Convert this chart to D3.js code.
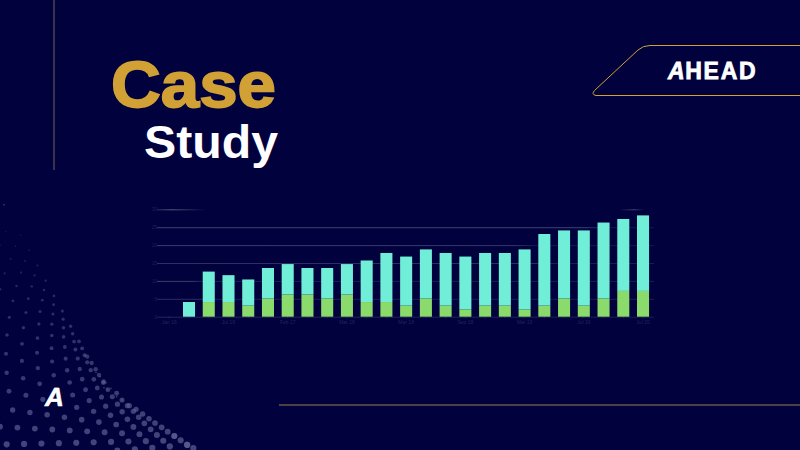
<!DOCTYPE html>
<html>
<head>
<meta charset="utf-8">
<script src="https://cdn.jsdelivr.net/npm/d3@7"></script>
<style>
  html, body { margin: 0; padding: 0; background: #01013e; }
  svg { display: block; }
</style>
</head>
<body>
<div id="chart"></div>
<script>
// Chart data
const periods = d3.range(25);
const tickLabels = ["Jan 16", "Jul 16", "Feb 17", "Mar 18", "Mar 18", "Sep 18", "Mar 19", "Jul 19", "Jul 20"];
const greenValues = [0, 0, 4.1, 4.1, 3.1, 5.1, 6.2, 6.2, 5.1, 6.2, 4.1, 4.1, 3.1, 5.1, 3.1, 2.05, 3.1, 3.1, 2.05, 3.1, 5.1, 3.1, 5.1, 7.2, 7.2];
const tealValues = [0, 4.1, 8.5, 7.5, 7.3, 8.5, 8.5, 7.4, 8.5, 8.5, 11.6, 13.7, 13.7, 13.7, 14.7, 14.75, 14.7, 14.7, 16.75, 20, 19, 21, 21.2, 20.1, 21.1];
const yTicks = [0, 5, 10, 15, 20, 25, 30];

const width = 800;
const height = 450;
const background = "#01013e";
const gold = "#d1a135";
const teal = "#70eed8";
const green = "#8adb6c";

const svg = d3
  .select("#chart")
  .append("svg")
  .attr("width", width)
  .attr("height", height)
  .attr("viewBox", [0, 0, width, height]);

svg.append("rect").attr("width", width).attr("height", height).attr("fill", background);

// Scales
const x = d3
  .scaleBand()
  .domain(periods)
  .range([159.4, 652.9])
  .paddingInner(0.39)
  .paddingOuter(0.195);
const y = d3.scaleLinear().domain([0, 30]).range([316.7, 209.3]);

// Gridlines are uneven in the picture, so each one has its own gradient
const gridStops = {
  0: [[0, "#23255a"], [1, "#1c1e52"]],
  5: [[0, "#2a2c60"], [0.08, "#2a2c60"], [0.1, "#1c1e55"], [1, "#1a1c50"]],
  10: [[0, "#3a3c68"], [0.07, "#3a3c68"], [0.09, "#1d1f56"], [1, "#1a1c50"]],
  15: [[0, "#2c2e64"], [0.75, "#2c2e64"], [0.8, "#1a1c50"], [1, "#1a1c50"]],
  20: [[0, "#3a3c70"], [0.72, "#33356a"], [0.76, "#14164c"], [1, "#14164c"]],
  25: [[0, "#3d3f70"], [0.86, "#3d3f70"], [0.9, "#14164c"], [1, "#14164c"]],
  30: [[0, "#2a2c58"], [0.03, "#55577a"], [0.1, "#01013e"], [0.93, "#01013e"], [0.96, "#45476c"], [0.98, "#01013e"], [1, "#01013e"]],
};
const defs = svg.append("defs");
yTicks.forEach((t) => {
  const grad = defs
    .append("linearGradient")
    .attr("id", `grid-${t}`)
    .attr("gradientUnits", "userSpaceOnUse")
    .attr("x1", 0)
    .attr("x2", 497)
    .attr("y1", 0)
    .attr("y2", 0);
  gridStops[t].forEach((s) => {
    grad.append("stop").attr("offset", s[0]).attr("stop-color", s[1]);
  });
});

// Y axis with gridlines
svg
  .append("g")
  .attr("transform", "translate(157,0)")
  .call(d3.axisLeft(y).tickValues(yTicks).tickSize(0).tickPadding(0))
  .call((g) => g.select(".domain").remove())
  .call((g) =>
    g
      .selectAll(".tick text")
      .attr("fill", "#1f2156")
      .attr("font-size", "4.5px")
      .attr("font-family", "Liberation Sans"),
  )
  .call((g) =>
    g
      .selectAll(".tick")
      .append("rect")
      .attr("x", 0)
      .attr("y", -0.5)
      .attr("width", 497)
      .attr("height", 1)
      .attr("fill", (d) => `url(#grid-${d})`),
  );

// X axis, labelled every third period
svg
  .append("g")
  .attr("transform", `translate(0,${y(0)})`)
  .call(
    d3
      .axisBottom(x)
      .tickSize(1.5)
      .tickPadding(2)
      .tickFormat((d) => (d % 3 === 0 ? tickLabels[d / 3] : "")),
  )
  .call((g) => g.select(".domain").remove())
  .call((g) => g.selectAll(".tick line").attr("stroke", "#2a2c60"))
  .call((g) =>
    g
      .selectAll(".tick text")
      .attr("fill", "#23255a")
      .attr("font-size", "5px")
      .attr("font-family", "Liberation Sans"),
  );

// Stacked bars
const stack = d3.stack().keys(["green", "teal"]);
const stacked = stack(periods.map((p) => ({ green: greenValues[p], teal: tealValues[p] })));
const barColors = { green: green, teal: teal };
svg
  .append("g")
  .selectAll("g")
  .data(stacked)
  .join("g")
  .attr("fill", (s) => barColors[s.key])
  .selectAll("rect")
  .data((s) => s.map((d, i) => ({ d, i })).filter((b) => b.d[1] > b.d[0]))
  .join("rect")
  .attr("x", (b) => x(b.i))
  .attr("y", (b) => y(b.d[1]))
  .attr("width", x.bandwidth())
  .attr("height", (b) => y(b.d[0]) - y(b.d[1]));

// Title
svg
  .append("text")
  .attr("x", 111)
  .attr("y", 107)
  .attr("fill", gold)
  .attr("stroke", gold)
  .attr("stroke-width", 1.8)
  .attr("font-family", "Liberation Sans")
  .attr("font-weight", 700)
  .attr("font-size", 65)
  .attr("textLength", 165)
  .attr("lengthAdjust", "spacingAndGlyphs")
  .text("Case");
svg
  .append("text")
  .attr("x", 144)
  .attr("y", 157.5)
  .attr("fill", "#ffffff")
  .attr("font-family", "Liberation Sans")
  .attr("font-weight", 700)
  .attr("font-size", 46)
  .attr("textLength", 134)
  .attr("lengthAdjust", "spacingAndGlyphs")
  .text("Study");

// Gold rules and the logo panel
svg
  .append("rect")
  .attr("x", 53.5)
  .attr("y", 0)
  .attr("width", 1)
  .attr("height", 170)
  .attr("fill", "#75655a");
svg
  .append("rect")
  .attr("x", 279)
  .attr("y", 404.5)
  .attr("width", 521)
  .attr("height", 1)
  .attr("fill", "#9a7f4e");
svg
  .append("path")
  .attr("d", "M800,45.5H650Q643,45.5 638,50L594.5,90.5Q591,94.5 596,95.5H800")
  .attr("fill", "none")
  .attr("stroke", gold)
  .attr("stroke-width", 1);

// Logo text
const logo = svg
  .append("text")
  .attr("x", 668)
  .attr("y", 78.5)
  .attr("fill", "#ffffff")
  .attr("stroke", "#ffffff")
  .attr("stroke-width", 0.8)
  .attr("font-family", "Liberation Sans")
  .attr("font-weight", 700)
  .attr("font-size", 23)
  .attr("letter-spacing", 1.7);
logo.append("tspan").attr("font-style", "italic").text("A");
logo.append("tspan").attr("dx", -1).text("HEAD");

// Dot field in the lower left corner, in crop coordinates (3x, origin at 0,200).
// Each row: first dot x, y, last dot x, y, dot count
const dotRows = [
  [37, 60, 262, 470, 10], [18, 95, 275, 489, 10], [0, 135, 254, 466, 9],
  [14, 220, 297, 525, 9], [0, 268, 311, 545, 9], [28, 352, 366, 600, 9],
  [21, 405, 382, 617, 9], [18, 461, 400, 634, 9], [20, 518, 416, 652, 9],
  [27, 574, 433, 670, 9], [38, 630, 452, 688, 9], [0, 680, 523, 708, 11],
  [20, 733, 542, 721, 11], [352, 752, 562, 735, 5],
];
const edgeDots = [
  [287, 508], [310, 548], [350, 580], [388, 617], [408, 628], [428, 642], [447, 656], [465, 669],
  [485, 682], [503, 695], [523, 708], [561, 734], [580, 744],
];
const tinyDots = [
  [12, 14], [256, 466], [288, 517], [300, 530], [318, 548], [312, 563], [322, 568], [333, 565], [350, 590], [367, 600],
];
const dots = [];
dotRows.forEach((row) => {
  const [x0, y0, x1, y1, n] = row;
  d3.range(n).forEach((i) => {
    dots.push([x0 + ((x1 - x0) * i) / (n - 1), y0 + ((y1 - y0) * i) / (n - 1)]);
  });
});
const dotRadius = d3.scaleLinear().domain([60, 735]).range([0.45, 3.1]).clamp(true);
const dotOpacity = d3.scaleLinear().domain([60, 735]).range([0.3, 0.72]).clamp(true);
svg
  .append("g")
  .attr("fill", "#5d6092")
  .selectAll("circle")
  .data(dots.concat(edgeDots))
  .join("circle")
  .attr("cx", (d) => d[0] / 3)
  .attr("cy", (d) => 200 + d[1] / 3)
  .attr("r", (d) => dotRadius(d[1]))
  .attr("opacity", (d) => dotOpacity(d[1]));
svg
  .append("g")
  .attr("fill", "#5d6092")
  .selectAll("circle")
  .data(tinyDots)
  .join("circle")
  .attr("cx", (d) => d[0] / 3)
  .attr("cy", (d) => 200 + d[1] / 3)
  .attr("r", 0.9)
  .attr("opacity", 0.55);

// Small logo mark
svg
  .append("text")
  .attr("x", 45)
  .attr("y", 405.5)
  .attr("fill", "#ffffff")
  .attr("stroke", "#ffffff")
  .attr("stroke-width", 0.6)
  .attr("font-family", "Liberation Sans")
  .attr("font-weight", 700)
  .attr("font-style", "italic")
  .attr("font-size", 26)
  .text("A");
</script>
</body>
</html>
